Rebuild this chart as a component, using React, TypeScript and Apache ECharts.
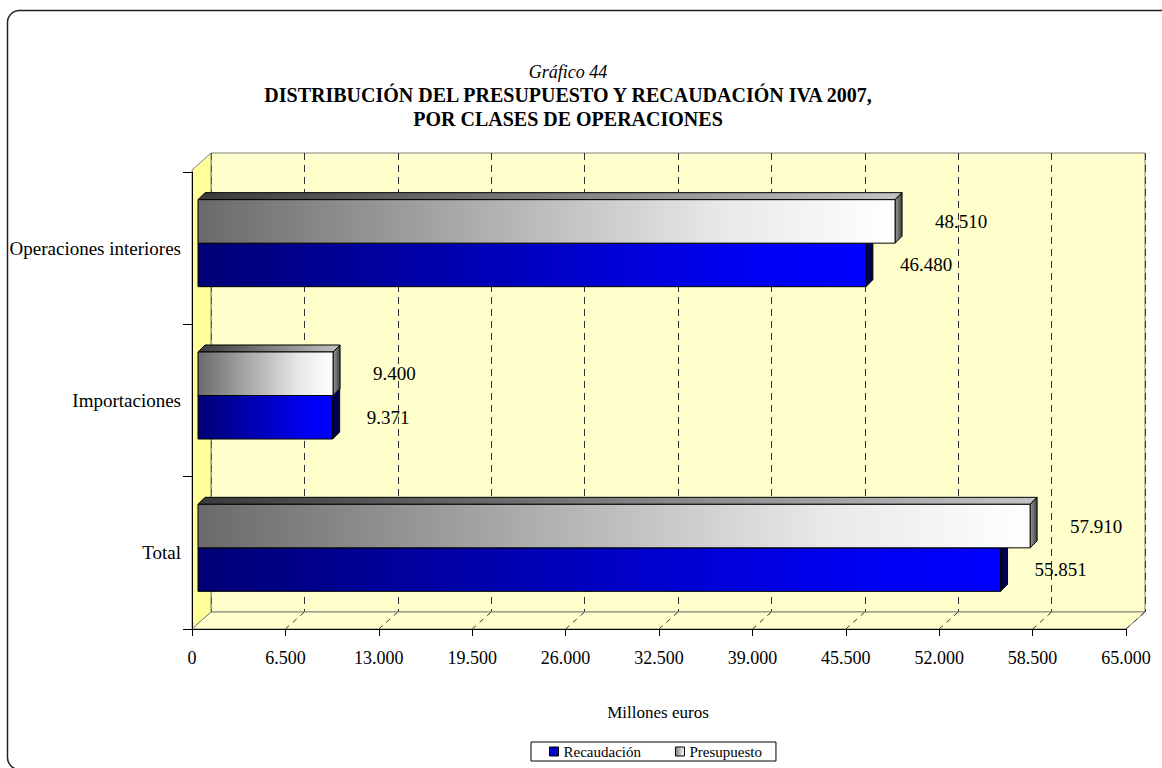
import React, { useEffect, useRef } from "react";
import * as echarts from "echarts";

const categories = ["Operaciones interiores", "Importaciones", "Total"];
const recaudacion = [46480, 9371, 55851];
const presupuesto = [48510, 9400, 57910];
const axisMin = 0;
const axisMax = 65000;
const axisStep = 6500;
const titleLines = [
  "Gráfico 44",
  "DISTRIBUCIÓN DEL PRESUPUESTO Y RECAUDACIÓN IVA 2007,",
  "POR CLASES DE OPERACIONES",
];
const axisName = "Millones euros";
const seriesNames = ["Recaudación", "Presupuesto"];

const FONT = "Liberation Serif";

// frame geometry (3D look)
const FRONT = { left: 192, top: 172, width: 934, height: 457 };
const BARS = { left: 198, top: 167, width: 934, height: 457 };
const BACK = { left: 211, top: 153, width: 934, height: 459 };
const DEPTH = 7;

const fmt = (v: number) =>
  String(Math.round(v)).replace(/\B(?=(\d{3})+(?!\d))/g, ".");

const presFront = () =>
  new echarts.graphic.LinearGradient(0, 0, 1, 0, [
    { offset: 0, color: "#6a6a6a" },
    { offset: 0.75, color: "#e8e8e8" },
    { offset: 1, color: "#ffffff" },
  ]);
const presTop = () =>
  new echarts.graphic.LinearGradient(0, 0, 1, 0, [
    { offset: 0, color: "#3a3a3a" },
    { offset: 1, color: "#c4c4c4" },
  ]);
const recFront = () =>
  new echarts.graphic.LinearGradient(0, 0, 1, 0, [
    { offset: 0, color: "#000075" },
    { offset: 0.8, color: "#0000f0" },
    { offset: 1, color: "#0000ff" },
  ]);

function makeRender(kind: "pres" | "rec") {
  return (params: any, api: any) => {
    const v = api.value(0);
    const ci = api.value(1);
    const start = api.coord([0, ci]);
    const end = api.coord([v, ci]);
    const band = api.size([0, 1])[1];
    const th = band * 0.2856;
    const cy = start[1];
    const y0 = kind === "pres" ? cy - th : cy;
    const y1 = y0 + th;
    const x0 = start[0];
    const x1 = end[0];
    const d = DEPTH;
    const stroke = "#000";
    const children: any[] = [
      {
        type: "polygon",
        shape: {
          points: [
            [x0, y0],
            [x0 + d, y0 - d],
            [x1 + d, y0 - d],
            [x1, y0],
          ],
        },
        style: {
          fill: kind === "pres" ? presTop() : "#00008a",
          stroke,
          lineWidth: 1,
        },
      },
      {
        type: "polygon",
        shape: {
          points: [
            [x1, y0],
            [x1 + d, y0 - d],
            [x1 + d, y1 - d],
            [x1, y1],
          ],
        },
        style: {
          fill:
            kind === "pres"
              ? new echarts.graphic.LinearGradient(1, 0, 0, 0, [
                  { offset: 0, color: "#404040" },
                  { offset: 1, color: "#9a9a9a" },
                ])
              : "#000050",
          stroke,
          lineWidth: 1,
        },
      },
      {
        type: "rect",
        shape: { x: x0, y: y0, width: x1 - x0, height: th },
        style: {
          fill: kind === "pres" ? presFront() : recFront(),
          stroke,
          lineWidth: 1,
        },
      },
      {
        type: "text",
        x: x1 + (kind === "pres" ? 40 : 34),
        y: (y0 + y1) / 2,
        style: {
          text: fmt(v),
          fill: "#000",
          fontSize: 19,
          fontFamily: FONT,
          align: "left",
          verticalAlign: "middle",
        },
      },
    ];
    return { type: "group", children };
  };
}

export default function App() {
  const ref = useRef<HTMLDivElement>(null);

  useEffect(() => {
    if (!ref.current) return;
    const chart = echarts.init(ref.current, null, { renderer: "svg" });

    const floorDashes: any[] = [];
    const n = Math.round((axisMax - axisMin) / axisStep);
    const stepPx = FRONT.width / n;
    for (let k = 1; k <= n; k++) {
      floorDashes.push({
        type: "line",
        z: 1,
        shape: {
          x1: FRONT.left + k * stepPx,
          y1: FRONT.top + FRONT.height,
          x2: BACK.left + k * stepPx,
          y2: BACK.top + BACK.height,
        },
        style: { stroke: "#333", lineWidth: 1, lineDash: [5, 5] },
      });
    }

    const fb = FRONT.top + FRONT.height;
    const bb = BACK.top + BACK.height;

    const option: any = {
      animation: false,
      backgroundColor: "#ffffff",
      grid: [
        { ...BARS, containLabel: false },
        { ...FRONT, containLabel: false },
        {
          ...BACK,
          containLabel: false,
          show: true,
          backgroundColor: "#FFFFCC",
          borderColor: "#808080",
          borderWidth: 1,
        },
      ],
      xAxis: [
        {
          gridIndex: 0,
          type: "value",
          min: axisMin,
          max: axisMax,
          interval: axisStep,
          show: false,
        },
        {
          gridIndex: 1,
          type: "value",
          min: axisMin,
          max: axisMax,
          interval: axisStep,
          z: 10,
          axisLine: { show: true, lineStyle: { color: "#000", width: 1 } },
          axisTick: { show: true, length: 7, lineStyle: { color: "#000" } },
          axisLabel: {
            formatter: (v: number) => fmt(v),
            color: "#000",
            fontSize: 18,
            fontFamily: FONT,
            margin: 20,
          },
          splitLine: { show: false },
        },
        {
          gridIndex: 2,
          type: "value",
          min: axisMin,
          max: axisMax,
          interval: axisStep,
          axisLine: { show: false },
          axisTick: { show: false },
          axisLabel: { show: false },
          splitLine: {
            show: true,
            lineStyle: { color: "#333", width: 1, type: [7, 5] },
          },
        },
      ],
      yAxis: [
        {
          gridIndex: 0,
          type: "category",
          data: categories,
          inverse: true,
          show: false,
        },
        {
          gridIndex: 1,
          type: "category",
          data: categories,
          inverse: true,
          z: 10,
          axisLine: { show: true, lineStyle: { color: "#000", width: 1 } },
          axisTick: { show: true, length: 9, lineStyle: { color: "#000" } },
          axisLabel: {
            color: "#000",
            fontSize: 19,
            fontFamily: FONT,
            margin: 11,
          },
        },
        {
          gridIndex: 2,
          type: "value",
          show: false,
        },
      ],
      legend: {
        left: 531,
        top: 742,
        orient: "horizontal",
        padding: [2, 14, 2, 18],
        itemGap: 34,
        itemWidth: 9,
        itemHeight: 9,
        icon: "rect",
        borderColor: "#000",
        borderWidth: 1,
        backgroundColor: "#fff",
        textStyle: { color: "#000", fontSize: 15, fontFamily: FONT },
        data: [
          {
            name: seriesNames[0],
            itemStyle: { color: "#0000cc", borderColor: "#000", borderWidth: 1 },
          },
          {
            name: seriesNames[1],
            itemStyle: {
              color: new echarts.graphic.LinearGradient(0, 0, 1, 0, [
                { offset: 0, color: "#808080" },
                { offset: 1, color: "#ffffff" },
              ]),
              borderColor: "#000",
              borderWidth: 1,
            },
          },
        ],
      },
      series: [
        {
          name: seriesNames[0],
          type: "custom",
          xAxisIndex: 0,
          yAxisIndex: 0,
          itemStyle: { color: "#0000cc" },
          renderItem: makeRender("rec"),
          encode: { x: 0, y: 1 },
          data: recaudacion.map((v, i) => [v, i]),
          z: 2,
        },
        {
          name: seriesNames[1],
          type: "custom",
          xAxisIndex: 0,
          yAxisIndex: 0,
          itemStyle: { color: "#c0c0c0" },
          renderItem: makeRender("pres"),
          encode: { x: 0, y: 1 },
          data: presupuesto.map((v, i) => [v, i]),
          z: 3,
        },
      ],
      graphic: [
        {
          type: "rect",
          z: 0,
          shape: { x: 7.5, y: 10.5, width: 1165, height: 759, r: 12 },
          style: { fill: "none", stroke: "#222", lineWidth: 1.5 },
          silent: true,
        },
        // left side wall
        {
          type: "polygon",
          z: 1,
          shape: {
            points: [
              [FRONT.left, FRONT.top - 2],
              [BACK.left, BACK.top],
              [BACK.left, bb],
              [FRONT.left, fb],
            ],
          },
          style: { fill: "#FFFF99", stroke: "#808080", lineWidth: 1 },
        },
        // floor
        {
          type: "polygon",
          z: 1,
          shape: {
            points: [
              [FRONT.left, fb],
              [BACK.left, bb],
              [BACK.left + BACK.width, bb],
              [FRONT.left + FRONT.width, fb],
            ],
          },
          style: { fill: "#FFFFCC", stroke: "#808080", lineWidth: 1 },
        },
        ...floorDashes,
        {
          type: "text",
          x: 568,
          y: 72,
          style: {
            text: titleLines[0],
            fill: "#000",
            fontSize: 18,
            fontStyle: "italic",
            fontFamily: FONT,
            align: "center",
            verticalAlign: "middle",
          },
        },
        {
          type: "text",
          x: 568,
          y: 95,
          style: {
            text: titleLines[1],
            fill: "#000",
            fontSize: 20,
            fontWeight: "bold",
            fontFamily: FONT,
            align: "center",
            verticalAlign: "middle",
          },
        },
        {
          type: "text",
          x: 568,
          y: 119,
          style: {
            text: titleLines[2],
            fill: "#000",
            fontSize: 20,
            fontWeight: "bold",
            fontFamily: FONT,
            align: "center",
            verticalAlign: "middle",
          },
        },
        {
          type: "text",
          x: 658,
          y: 712,
          style: {
            text: axisName,
            fill: "#000",
            fontSize: 17,
            fontFamily: FONT,
            align: "center",
            verticalAlign: "middle",
          },
        },
      ],
    };

    chart.setOption(option);
    return () => chart.dispose();
  }, []);

  return (
    <div
      ref={ref}
      style={{ position: "absolute", left: 0, top: 0, width: 1162, height: 768 }}
    />
  );
}
